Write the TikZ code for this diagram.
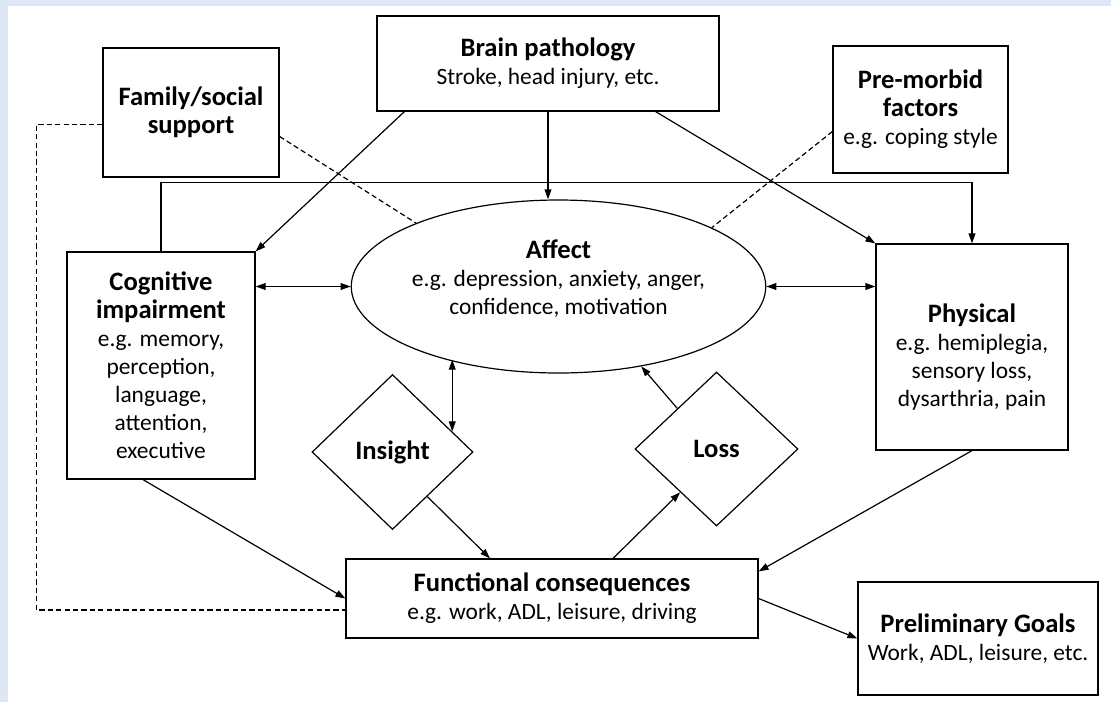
\documentclass[tikz,border=0pt]{standalone}
\usepackage{fontspec}
\setmainfont{Carlito}
\usetikzlibrary{shapes.geometric,arrows.meta}
\definecolor{frameblue}{RGB}{221,232,244}
\newcommand{\hdr}{\fontsize{13.3}{16}\selectfont\bfseries}
\newcommand{\bdy}{\fontsize{11.7}{14}\selectfont\mdseries}

\begin{document}
\begin{tikzpicture}[x=0.5pt,y=-0.5pt, line width=0.6pt,
    >={Triangle[length=5pt,width=3.4pt]},
    box/.style={draw, rectangle, align=center, inner sep=2pt, font=\bdy},
    diam/.style={draw, diamond, inner sep=0pt, font=\hdr},
    linkdash/.style={dash pattern=on 2.6pt off 1.6pt}]
        % Frame
        \useasboundingbox (0,0) rectangle (1111,702);
        \fill[frameblue] (0,0) rectangle (1111,702);
        \fill[white] (8,6) rectangle (1111,702);

        % Top row
        \node[box, minimum width=88pt, minimum height=64.5pt] (fam) at (191,112.5) {\hdr Family/social\\\hdr support};
        \node[box, minimum width=171pt, minimum height=47.5pt] (brain) at (548,63.5) {\hdr Brain pathology\\\bdy Stroke, head injury, etc.};
        \node[box, minimum width=87.5pt, minimum height=63.5pt] (pre) at (920.5,109.5) {\hdr Pre-morbid\\\hdr factors\\\bdy e.g. coping style};

        % Middle row
        \node[box, minimum width=94pt, minimum height=113.5pt] (cog) at (161,365.5) {\hdr Cognitive\\\hdr impairment\\\bdy e.g. memory,\\perception,\\language,\\attention,\\executive};
        \node[draw, ellipse, align=center, inner sep=0pt, font=\bdy, minimum width=181.5pt, minimum height=86.5pt] (affect) at (558.5,286.5) {\hdr Affect\\\bdy e.g. depression, anxiety, anger,\\confidence, motivation\\[-5pt]\mbox{}};
        \node[box, minimum width=96pt, minimum height=103pt] (phys) at (972,347) {\mbox{}\\[5pt]\hdr Physical\\\bdy e.g. hemiplegia,\\sensory loss,\\dysarthria, pain};

        % Diamonds
        \node[diam, minimum width=80.5pt, minimum height=77.5pt] (insight) at (392.5,452) {Insight};
        \node[diam, minimum width=81.5pt, minimum height=77pt] (loss) at (716.5,449) {Loss};

        % Bottom row
        \node[box, minimum width=206pt, minimum height=39.5pt] (func) at (552,598.5) {\hdr Functional consequences\\\bdy e.g. work, ADL, leisure, driving};
        \node[box, minimum width=120pt, minimum height=56.5pt] (goals) at (978,638.5) {\hdr Preliminary Goals\\\bdy Work, ADL, leisure, etc.};

        % Brain pathology links
        \draw[->] ([xshift=14pt]brain.south west) -- (cog.north east);
        \draw[->] (brain.south) -- (brain.south |- affect.north);
        \draw[->] ([xshift=-32pt]brain.south east) -- (phys.north west);
        \draw[->] (cog.north) -- ++(0,-69) -| (phys.north);

        % Dashed links
        \draw[linkdash] ([yshift=-12pt]fam.east) -- (affect.156);
        \draw[linkdash] ([yshift=-11pt]pre.west) -- (affect.21);
        \draw[linkdash] ([yshift=-6pt]fam.west) -- ++(-66,0) |- ([yshift=-5.75pt]func.west);

        % Affect links
        \draw[<->] (cog.east |- affect.west) -- (affect.west);
        \draw[<->] (affect.east) -- (affect.east -| phys.west);
        \draw[<->] (insight.19 |- affect.213) -- (insight.19);
        \draw[->] (loss.134) -- (affect.-44);

        % Functional consequences links
        \draw[->] (insight.-52) -- ([xshift=-31pt]func.north);
        \draw[->] ([xshift=30.5pt]func.north) -- (loss.230);
        \draw[->] ([xshift=-9pt]cog.south) -- (func.west);
        \draw[->] (phys.south) -- ([yshift=-6.5pt]func.north east);
        \draw[->] (func.east) -- (goals.west);
\end{tikzpicture}
\end{document}
